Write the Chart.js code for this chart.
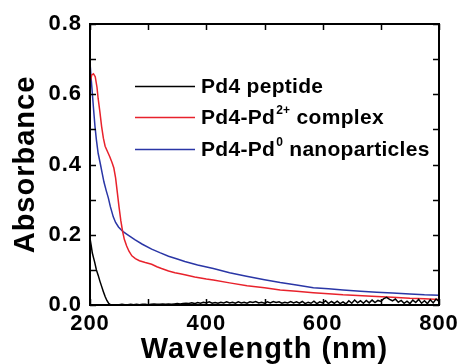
<!DOCTYPE html>
<html>
<head>
<meta charset="utf-8">
<script src="https://cdn.jsdelivr.net/npm/chart.js@4"></script>
<style>
  html, body { margin: 0; padding: 0; background: #fff; }
  #wrap { width: 458px; height: 364px; position: relative; }
</style>
</head>
<body>
<div id="wrap"><canvas id="c" width="458" height="364"></canvas></div>
<script>
// ---- Data ----
const seriesNames = ['Pd4 peptide', 'Pd4-Pd', 'Pd4-Pd'];
const seriesSup = ['', '2+', '0'];
const seriesTail = ['', ' complex', ' nanoparticles'];

const blackWl = [200,202,204,206,208,211,214,217,220,223,226,229,232,235,
  240,245,250,255,260,265,270,275,280,285,290,295,300,305,310,315,320,325,330,335,340,345,350,355,360,365,370,
  375,380,385,390,395,400,405,410,415,420,425,430,435,440,445,450,455,460,465,470,475,480,485,490,495,500,
  505,510,515,520,525,530,535,540,545,550,555,560,565,570,575,580,585,590,595,600,605,610,615,620,625,630,
  635,640,645,650,655,660,665,670,675,680,685,690,695,700,705,710,715,720,725,730,735,740,745,750,755,760,
  765,770,775,780,785,790,795,800];
const blackAbs = [0.19,0.17,0.148,0.135,0.122,0.10,0.085,0.068,0.053,0.038,0.024,0.013,0.005,0.001,
  0.0,0.001,0.001,0.002,0.001,0.001,0.002,0.001,0.002,0.001,0.002,0.002,0.001,0.002,0.003,0.002,0.002,0.003,0.002,0.003,0.002,0.003,0.004,0.003,0.004,0.005,0.004,
  0.006,0.004,0.007,0.005,0.008,0.006,0.009,0.005,0.007,0.005,0.008,0.006,0.009,0.006,0.008,0.005,0.009,0.006,0.008,0.005,0.009,0.007,0.010,0.006,0.008,0.005,
  0.009,0.006,0.010,0.007,0.009,0.005,0.008,0.006,0.010,0.006,0.009,0.005,0.010,0.004,0.008,0.005,0.011,0.004,0.009,0.006,0.012,0.004,0.010,0.005,0.011,0.004,
  0.009,0.003,0.012,0.005,0.014,0.006,0.012,0.005,0.013,0.006,0.014,0.007,0.013,0.010,0.018,0.022,0.016,0.012,0.017,0.008,0.013,0.005,0.011,0.004,0.014,0.007,
  0.016,0.005,0.012,0.004,0.015,0.006,0.017,0.010];

const redWl = [200,203,206,209,212,214,217,220,223,226,230,234,238,241,244,247,250,253,256,259,263,267,272,278,285,295,306,315,323,335,346,355,363,380,400,412,440,470,500,527,555,584,610,635,660,693,720,750,775,800];
const redAbs = [0.632,0.655,0.658,0.65,0.62,0.588,0.55,0.508,0.475,0.452,0.437,0.422,0.405,0.39,0.362,0.32,0.278,0.24,0.21,0.187,0.168,0.153,0.14,0.132,0.126,0.121,0.116,0.109,0.104,0.097,0.092,0.089,0.086,0.080,0.074,0.071,0.063,0.055,0.049,0.043,0.039,0.035,0.032,0.029,0.027,0.024,0.022,0.019,0.018,0.016];

const blueWl = [200,202,204,206,208.6,211,214,218,221,224,228,231.5,235,240,244,249,253,257,263,270,277,290,306,320,335,350,363,385,412,440,469,500,527,555,584,610,635,665,693,720,750,775,800];
const blueAbs = [0.69,0.645,0.603,0.56,0.508,0.47,0.432,0.40,0.375,0.35,0.325,0.305,0.28,0.251,0.235,0.222,0.215,0.209,0.202,0.194,0.186,0.173,0.159,0.149,0.139,0.131,0.124,0.114,0.104,0.092,0.082,0.072,0.064,0.057,0.049,0.046,0.043,0.039,0.036,0.034,0.031,0.029,0.028];

const xLabelValues = [200, 400, 600, 800];
const yLabelValues = [0, 0.2, 0.4, 0.6, 0.8];
const seriesColors = ['#000000', '#e8222c', '#2a36a6'];

const FONT = "'Liberation Sans', Arial, sans-serif";

function pts(xs, ys) { return xs.map((x, i) => ({ x: x, y: ys[i] })); }

const spacing = {
  id: 'spacing',
  beforeDraw(chart) { chart.ctx.letterSpacing = '1px'; }
};

const frameTicks = {
  id: 'frameTicks',
  afterDatasetsDraw(chart) {
    const { ctx, chartArea: { left, right, top, bottom }, scales: { x, y } } = chart;
    const L = 6;
    ctx.save();
    ctx.strokeStyle = '#000';
    ctx.lineWidth = 1.5;
    ctx.beginPath();
    x.ticks.forEach(t => {
      const px = Math.round(x.getPixelForValue(t.value)) + 0.5;
      ctx.moveTo(px, bottom); ctx.lineTo(px, bottom - L);
      ctx.moveTo(px, top); ctx.lineTo(px, top + L);
    });
    y.ticks.forEach(t => {
      const py = Math.round(y.getPixelForValue(t.value)) + 0.5;
      ctx.moveTo(left, py); ctx.lineTo(left + L, py);
      ctx.moveTo(right, py); ctx.lineTo(right - L, py);
    });
    ctx.stroke();
    ctx.lineWidth = 2;
    ctx.strokeRect(left, top, right - left, bottom - top);
    ctx.restore();
  }
};

const customLegend = {
  id: 'customLegend',
  afterDraw(chart) {
    const { ctx } = chart;
    const rowsY = [86, 117, 149];
    ctx.save();
    ctx.letterSpacing = '0.3px';
    for (let i = 0; i < 3; i++) {
      const yy = rowsY[i];
      ctx.strokeStyle = seriesColors[i];
      ctx.lineWidth = 1.5;
      ctx.beginPath();
      ctx.moveTo(135, yy + 0.5); ctx.lineTo(195, yy + 0.5);
      ctx.stroke();
      ctx.fillStyle = '#000';
      ctx.textBaseline = 'alphabetic';
      ctx.textAlign = 'left';
      let xx = 201;
      const base = yy + 7;
      ctx.font = 'bold 21px ' + FONT;
      ctx.fillText(seriesNames[i], xx, base);
      xx += ctx.measureText(seriesNames[i]).width;
      if (seriesSup[i]) {
        ctx.font = 'bold 12px ' + FONT;
        ctx.fillText(seriesSup[i], xx + 1, base - 10);
        xx += ctx.measureText(seriesSup[i]).width + 1;
        ctx.font = 'bold 21px ' + FONT;
        ctx.fillText(seriesTail[i], xx, base);
      }
    }
    ctx.restore();
  }
};

new Chart(document.getElementById('c'), {
  type: 'line',
  data: {
    datasets: [0, 1, 2].map(i => ({
      label: seriesNames[i] + seriesSup[i] + seriesTail[i],
      data: pts([blackWl, redWl, blueWl][i], [blackAbs, redAbs, blueAbs][i]),
      borderColor: seriesColors[i],
      borderWidth: 1.5,
      pointRadius: 0,
      tension: 0,
      fill: false
    }))
  },
  options: {
    responsive: false,
    animation: false,
    devicePixelRatio: 1,
    layout: { padding: { top: 24, right: 19, left: 0, bottom: 0 } },
    plugins: { legend: { display: false }, tooltip: { enabled: false } },
    scales: {
      x: {
        type: 'linear', min: 200, max: 800,
        grid: { display: false, drawTicks: false },
        border: { display: false },
        ticks: {
          stepSize: 100, autoSkip: false, maxRotation: 0, padding: 6,
          color: '#000', font: { family: FONT, size: 22, weight: 'bold' },
          callback: v => xLabelValues.includes(v) ? String(v) : ''
        },
        title: {
          display: true, text: 'Wavelength (nm)', color: '#000',
          font: { family: FONT, size: 29, weight: 'bold', lineHeight: 1 },
          padding: { top: 0, bottom: 0 }
        },
        afterFit: s => { s.height = 59; s.paddingLeft = 0; s.paddingRight = 0; }
      },
      y: {
        type: 'linear', min: 0, max: 0.8,
        grid: { display: false, drawTicks: false },
        border: { display: false },
        ticks: {
          stepSize: 0.1, autoSkip: false, padding: 8,
          color: '#000', font: { family: FONT, size: 22, weight: 'bold' },
          callback: v => {
            const r = Math.round(v * 10) / 10;
            return yLabelValues.some(t => Math.abs(t - r) < 1e-9) ? r.toFixed(1) : '';
          }
        },
        title: {
          display: true, text: 'Absorbance', color: '#000',
          font: { family: FONT, size: 29, weight: 'bold', lineHeight: 1 },
          padding: { top: 11, bottom: 0 }
        },
        afterFit: s => { s.width = 90; s.paddingTop = 0; s.paddingBottom = 0; }
      }
    }
  },
  plugins: [spacing, frameTicks, customLegend]
});
</script>
</body>
</html>
